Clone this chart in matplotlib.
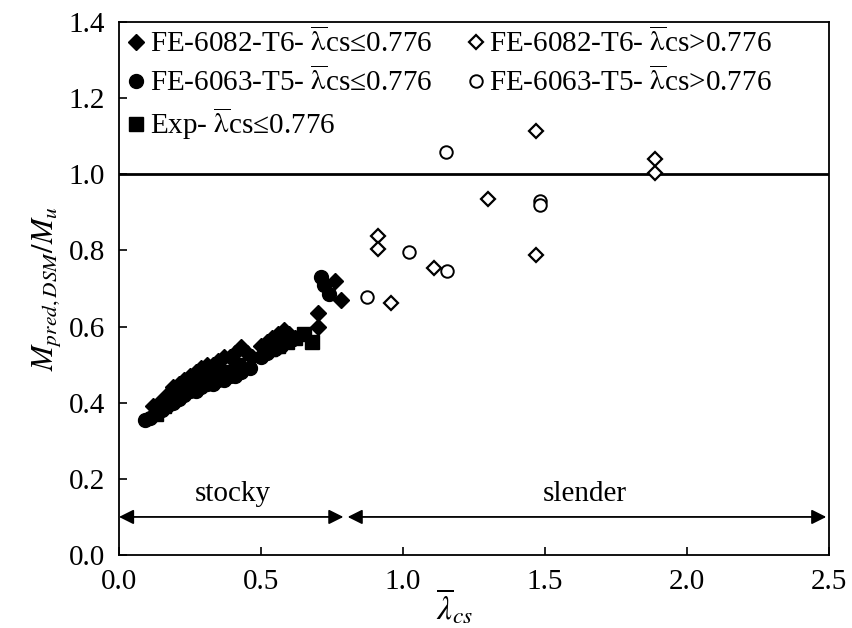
import matplotlib
matplotlib.use('Agg')
import matplotlib.pyplot as plt

plt.rcParams['font.family'] = ['Liberation Serif', 'DejaVu Serif']
plt.rcParams['mathtext.fontset'] = 'stix'

# FE-6082-T6, lambda <= 0.776 (filled diamonds)
x6082_s = [0.12, 0.14, 0.17, 0.19, 0.21, 0.23, 0.25, 0.27, 0.29, 0.31, 0.33, 0.35, 0.37, 0.39,
           0.41, 0.43, 0.45, 0.47, 0.50, 0.52, 0.54, 0.56, 0.58, 0.60, 0.62, 0.70, 0.70, 0.76, 0.78]
y6082_s = [0.39, 0.40, 0.42, 0.44, 0.45, 0.46, 0.47, 0.48, 0.49, 0.50, 0.50, 0.51, 0.52, 0.52,
           0.53, 0.545, 0.53, 0.52, 0.55, 0.56, 0.57, 0.58, 0.59, 0.58, 0.57, 0.60, 0.635, 0.72, 0.67]
# FE-6063-T5, lambda <= 0.776 (filled circles)
x6063_s = [0.09, 0.11, 0.13, 0.15, 0.17, 0.19, 0.21, 0.23, 0.25, 0.27, 0.29, 0.31, 0.33,
           0.35, 0.37, 0.39, 0.41, 0.43, 0.46, 0.50, 0.52, 0.55, 0.57, 0.71, 0.72, 0.74]
y6063_s = [0.355, 0.36, 0.37, 0.38, 0.39, 0.40, 0.41, 0.42, 0.43, 0.43, 0.44, 0.45, 0.45,
           0.46, 0.46, 0.47, 0.47, 0.48, 0.49, 0.52, 0.53, 0.54, 0.55, 0.73, 0.71, 0.685]
# Exp, lambda <= 0.776 (filled squares)
xexp = [0.13, 0.16, 0.19, 0.22, 0.26, 0.30, 0.34, 0.38, 0.42, 0.53, 0.56, 0.59, 0.62, 0.65, 0.68]
yexp = [0.37, 0.39, 0.41, 0.43, 0.45, 0.46, 0.47, 0.48, 0.50, 0.54, 0.55, 0.56, 0.57, 0.58, 0.56]
# slender (open markers)
x6082_l = [0.913, 0.913, 0.957, 1.108, 1.298, 1.468, 1.468, 1.886, 1.886]
y6082_l = [0.838, 0.803, 0.661, 0.754, 0.934, 1.113, 0.788, 1.041, 1.004]
x6063_l = [0.872, 1.021, 1.152, 1.155, 1.482, 1.482]
y6063_l = [0.677, 0.796, 1.059, 0.746, 0.930, 0.918]

lab = r'$\overline{\mathrm{\lambda}}$cs'

fig = plt.figure(figsize=(8.53, 6.28), dpi=100)
ax = fig.add_axes([0.1395, 0.1162, 0.8325, 0.849])

ax.axhline(1.0, color='k', lw=2, zorder=1)
ax.plot(x6082_s, y6082_s, 'kD', ms=8, ls='none', label='FE-6082-T6- ' + lab + '≤0.776')
ax.plot(x6063_s, y6063_s, 'ko', ms=10, ls='none', label='FE-6063-T5- ' + lab + '≤0.776')
ax.plot(xexp, yexp, 'ks', ms=9.5, ls='none', label='Exp- ' + lab + '≤0.776')
ax.plot(x6082_l, y6082_l, 'D', ms=7, mfc='white', mec='k', mew=1.6, ls='none',
        label='FE-6082-T6- ' + lab + '>0.776')
ax.plot(x6063_l, y6063_l, 'o', ms=9, mfc='white', mec='k', mew=1.4, ls='none',
        label='FE-6063-T5- ' + lab + '>0.776')

# stocky / slender arrows
arr = dict(arrowstyle='<|-|>', color='k', lw=1.3, mutation_scale=22, shrinkA=0, shrinkB=0)
ax.annotate('', xy=(0.0, 0.1), xytext=(0.79, 0.1), arrowprops=arr)
ax.annotate('', xy=(0.805, 0.1), xytext=(2.49, 0.1), arrowprops=arr)
ax.text(0.40, 0.125, 'stocky', ha='center', va='bottom', fontsize=21)
ax.text(1.64, 0.125, 'slender', ha='center', va='bottom', fontsize=21)

ax.set_xlim(0, 2.5)
ax.set_ylim(0, 1.4)
ax.set_xticks([0.0, 0.5, 1.0, 1.5, 2.0, 2.5])
ax.set_yticks([0.0, 0.2, 0.4, 0.6, 0.8, 1.0, 1.2, 1.4])
ax.set_xticklabels(['0.0', '0.5', '1.0', '1.5', '2.0', '2.5'])
ax.set_yticklabels(['0.0', '0.2', '0.4', '0.6', '0.8', '1.0', '1.2', '1.4'])
ax.tick_params(direction='in', length=6, width=1.2, labelsize=21, pad=10)
for sp in ax.spines.values():
    sp.set_linewidth(1.3)

ax.set_ylabel(r'$M_{pred,DSM}/M_u$', fontsize=22, labelpad=4)
fig.text(0.533, 0.003, r'$\overline{\lambda}_{cs}$', fontsize=24, ha='center', va='bottom')

ax.legend(loc='upper left', ncol=2, frameon=False, fontsize=21, handletextpad=0.05,
          handlelength=0.8, columnspacing=1.1, labelspacing=0.3, borderaxespad=0.0,
          borderpad=0.2, bbox_to_anchor=(0.0, 1.0))

fig.savefig('out.png', dpi=100)
